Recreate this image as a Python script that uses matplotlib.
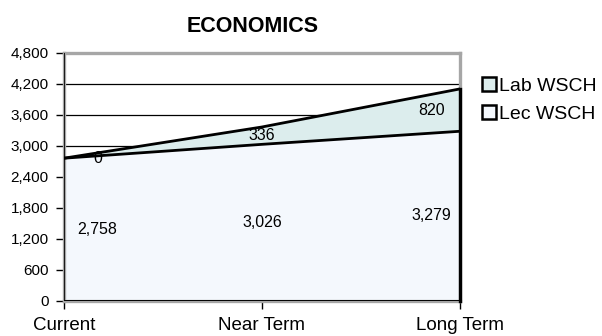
import matplotlib
matplotlib.use("Agg")
import matplotlib.pyplot as plt
from matplotlib.patches import Patch
from matplotlib.ticker import FuncFormatter, MultipleLocator

plt.rcParams['font.family'] = ['Liberation Sans', 'DejaVu Sans']

# Weekly student credit hours by planning horizon
categories = ["Current", "Near Term", "Long Term"]
lec_wsch = [2758, 3026, 3279]
lab_wsch = [0, 336, 820]

title = "ECONOMICS"
lec_color = "#F4F8FD"
lab_color = "#DCEDED"
border_gray = "#A6A6A6"

fig = plt.figure(figsize=(6.02, 3.36), dpi=100)
ax = fig.add_axes([0.1063, 0.1051, 0.6578, 0.7381])

x = list(range(len(categories)))
top = [a + b for a, b in zip(lec_wsch, lab_wsch)]

# stacked areas with black outlines
ax.fill_between(x, 0, lec_wsch, facecolor=lec_color, edgecolor="none", zorder=2)
ax.fill_between(x, lec_wsch, top, facecolor=lab_color, edgecolor="none", zorder=2)
ax.plot(x, lec_wsch, color="black", lw=2.0, zorder=4, solid_capstyle="butt")
ax.plot(x, top, color="black", lw=2.0, zorder=4, solid_capstyle="butt")
ax.plot([x[-1], x[-1]], [0, top[-1]], color="black", lw=2.4, zorder=5, clip_on=False)

ax.set_xlim(x[0], x[-1])
ax.set_ylim(0, 4800)
ax.yaxis.set_major_locator(MultipleLocator(600))
ax.yaxis.set_major_formatter(FuncFormatter(lambda v, p: f"{int(v):,}"))
ax.set_xticks(x)
ax.set_xticklabels(categories, fontsize=13.5)
ax.tick_params(axis="x", length=6, width=1, color="black", pad=6)
ax.tick_params(axis="y", length=6, width=1, color="black", pad=5, labelsize=11)

ax.grid(axis="y", color="black", lw=0.9, zorder=1)
ax.set_axisbelow(True)

for side in ["top", "right", "left", "bottom"]:
    ax.spines[side].set_color(border_gray)
    ax.spines[side].set_linewidth(2.4)
    ax.spines[side].set_zorder(3)
ax.axvline(x[0], color="black", lw=1.2, zorder=6)
ax.axhline(0, color="black", lw=1.4, zorder=6)

# value labels placed in the middle of each band
lab_x = [0.17, 1.0, 1.855]
for xi, v in zip(lab_x, lec_wsch):
    ax.text(xi, v / 2, f"{v:,}", ha="center", va="center", fontsize=11.5, zorder=7)
for xi, base, v in zip(lab_x, lec_wsch, lab_wsch):
    ax.text(xi, base + v / 2, f"{v:,}", ha="center", va="center", fontsize=11.5, zorder=7)

fig.text(253 / 602, 1 - 27 / 336, title, ha="center", va="center",
         fontsize=15.5, fontweight="bold")

handles = [Patch(facecolor=lab_color, edgecolor="black", lw=1.8, label="Lab WSCH"),
           Patch(facecolor=lec_color, edgecolor="black", lw=1.8, label="Lec WSCH")]
fig.legend(handles=handles, loc="upper left", bbox_to_anchor=(482 / 602, 1 - 77 / 336),
           frameon=False, fontsize=14, handlelength=0.7, handleheight=0.7,
           handletextpad=0.15, labelspacing=0.55, borderpad=0, borderaxespad=0)

fig.savefig("out.png", dpi=100)
